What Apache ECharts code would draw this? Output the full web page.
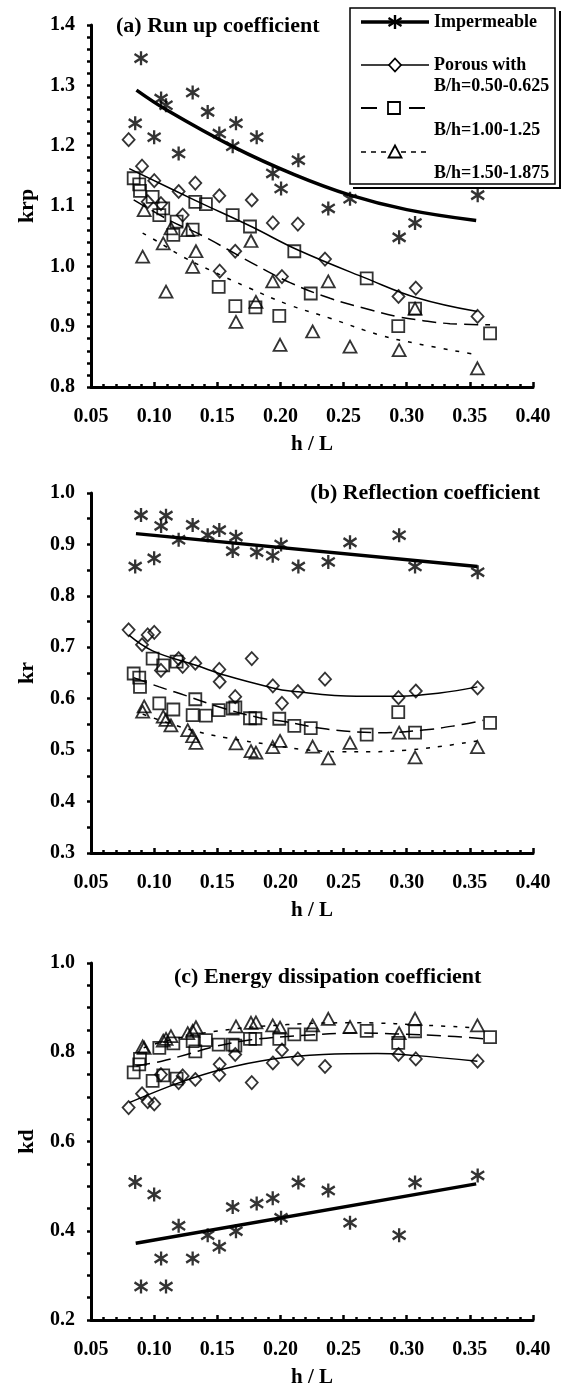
<!DOCTYPE html>
<html>
<head>
<meta charset="utf-8">
<script src="https://cdn.jsdelivr.net/npm/echarts@6/dist/echarts.min.js"></script>
<style>
html,body{margin:0;padding:0;background:#fff;}
#chart{width:563px;height:1389px;}
</style>
</head>
<body>
<div id="chart"></div>
<script>
// ---------- DATA ----------
// Shared h/L values of each test group
const hL_imp = [0.085,0.0896,0.100,0.1055,0.1094,0.1194,0.1305,0.1424,0.1516,0.1622,0.1648,0.1812,0.1939,0.2005,0.2142,0.2379,0.2551,0.294,0.3066,0.3562];
const hL_p05 = [0.0798,0.0904,0.0949,0.1001,0.1054,0.1194,0.1226,0.1326,0.1516,0.1519,0.1642,0.1773,0.194,0.2012,0.2138,0.2353,0.2935,0.3072,0.3561];
const hL_p10 = [0.0838,0.0882,0.0888,0.0988,0.1041,0.1072,0.1152,0.1178,0.1305,0.1326,0.141,0.1511,0.1622,0.1643,0.1759,0.1802,0.1991,0.211,0.224,0.2683,0.2933,0.3066,0.366];
const hL_p15 = [0.0909,0.0921,0.1072,0.1094,0.1133,0.1266,0.1305,0.1331,0.1648,0.1767,0.1806,0.1939,0.1997,0.2255,0.2379,0.2551,0.294,0.3066,0.356];

// (a) run-up coefficient krp
const krp_imp = [1.237,1.345,1.214,1.278,1.267,1.187,1.288,1.256,1.220,1.199,1.237,1.214,1.154,1.129,1.176,1.096,1.112,1.048,1.072,1.118];
const krp_p05 = [1.210,1.166,1.107,1.142,1.104,1.124,1.085,1.138,1.117,0.992,1.025,1.110,1.072,0.983,1.070,1.012,0.950,0.964,0.917];
const krp_p10 = [1.146,1.136,1.125,1.115,1.085,1.096,1.052,1.074,1.061,1.107,1.103,0.966,1.085,0.934,1.066,0.932,0.918,1.025,0.955,0.980,0.901,0.930,0.889];
const krp_p15 = [1.016,1.093,1.038,0.958,1.063,1.060,0.999,1.025,0.908,1.042,0.941,0.975,0.870,0.892,0.975,0.867,0.861,0.930,0.831];

// (b) reflection coefficient kr
const kr_imp = [0.857,0.957,0.873,0.936,0.956,0.909,0.938,0.918,0.928,0.887,0.915,0.885,0.878,0.900,0.857,0.866,0.904,0.918,0.857,0.846];
const kr_p05 = [0.734,0.705,0.724,0.729,0.655,0.678,0.663,0.669,0.657,0.633,0.604,0.678,0.625,0.591,0.614,0.638,0.602,0.615,0.621];
const kr_p10 = [0.649,0.641,0.623,0.678,0.591,0.665,0.579,0.672,0.568,0.599,0.567,0.578,0.581,0.583,0.562,0.562,0.561,0.547,0.543,0.530,0.574,0.534,0.553];
const kr_p15 = [0.575,0.585,0.565,0.559,0.548,0.539,0.527,0.514,0.513,0.498,0.495,0.506,0.518,0.507,0.484,0.514,0.534,0.486,0.506];

// (c) energy dissipation coefficient kd
const kd_imp = [0.509,0.275,0.481,0.338,0.275,0.411,0.338,0.390,0.364,0.453,0.399,0.461,0.473,0.429,0.508,0.490,0.418,0.390,0.508,0.524];
const kd_p05 = [0.676,0.707,0.689,0.684,0.750,0.732,0.747,0.739,0.750,0.773,0.795,0.732,0.776,0.805,0.785,0.768,0.795,0.785,0.780];
const kd_p10 = [0.755,0.773,0.785,0.736,0.810,0.748,0.820,0.741,0.825,0.802,0.827,0.817,0.817,0.815,0.830,0.830,0.830,0.840,0.840,0.848,0.821,0.847,0.834];
const kd_p15 = [0.813,0.810,0.826,0.830,0.836,0.843,0.848,0.856,0.858,0.866,0.867,0.860,0.855,0.860,0.875,0.857,0.843,0.875,0.860];

// Trend lines
const fitA_imp = [[0.086,1.292],[0.11,1.259],[0.1628,1.198],[0.211,1.152],[0.2552,1.118],[0.30,1.094],[0.355,1.076]];
const fitA_p05 = [[0.0803,1.162],[0.1329,1.109],[0.1769,1.066],[0.2139,1.027],[0.268,0.980],[0.3078,0.948],[0.356,0.925]];
const fitA_p10 = [[0.0838,1.110],[0.1133,1.075],[0.1371,1.052],[0.178,1.005],[0.2076,0.973],[0.2393,0.947],[0.2709,0.928],[0.292,0.917],[0.313,0.910],[0.3343,0.905],[0.366,0.903]];
const fitA_p15 = [[0.0909,1.055],[0.1028,1.041],[0.1226,1.016],[0.145,0.993],[0.1753,0.964],[0.207,0.936],[0.2393,0.914],[0.2788,0.886],[0.3078,0.872],[0.3514,0.855]];

const fitB_imp = [[0.0856,0.921],[0.356,0.857]];
const fitB_p05 = [[0.0798,0.724],[0.0988,0.693],[0.1331,0.665],[0.1569,0.645],[0.1939,0.621],[0.2076,0.615],[0.2603,0.605],[0.2947,0.605],[0.3263,0.611],[0.3559,0.623]];
const fitB_p10 = [[0.0838,0.641],[0.1041,0.623],[0.1252,0.606],[0.1516,0.584],[0.1833,0.563],[0.2044,0.555],[0.2366,0.541],[0.2788,0.534],[0.3131,0.539],[0.3395,0.548],[0.3606,0.558]];
const fitB_p15 = [[0.0909,0.570],[0.1252,0.542],[0.1569,0.524],[0.1939,0.510],[0.2155,0.502],[0.2472,0.497],[0.2709,0.497],[0.30,0.500],[0.329,0.508],[0.356,0.518]];

const fitC_imp = [[0.0854,0.372],[0.355,0.505]];
const fitC_p05 = [[0.0803,0.687],[0.12,0.732],[0.1541,0.762],[0.194,0.785],[0.2339,0.795],[0.2765,0.797],[0.3049,0.793],[0.356,0.780]];
const fitC_p10 = [[0.0859,0.769],[0.106,0.780],[0.1258,0.795],[0.1485,0.813],[0.1769,0.828],[0.2196,0.838],[0.2622,0.843],[0.2907,0.841],[0.3333,0.836],[0.3617,0.830]];
const fitC_p15 = [[0.0917,0.810],[0.1087,0.825],[0.1485,0.847],[0.2054,0.862],[0.2622,0.866],[0.3191,0.860],[0.3532,0.855]];

// Titles / labels
const panelTitles = ['(a) Run up coefficient','(b) Reflection coefficient','(c) Energy dissipation coefficient'];
const yNames = ['krp','kr','kd'];
const xName = 'h / L';
const legendLabels = ['Impermeable','Porous with','B/h=0.50-0.625','B/h=1.00-1.25','B/h=1.50-1.875'];

// ---------- CHART ----------
const FONT = 'Liberation Serif, Times New Roman, serif';
const BLK = '#000';
const zip = (xs, ys) => xs.map((x, i) => [x, ys[i]]);

const ASTERISK = 'path://M10,0L10,20M1,4L19,16M1,16L19,4';

const grids = [
  {left: 91, width: 442, top: 25, height: 362},
  {left: 91, width: 442, top: 493, height: 360},
  {left: 91, width: 442, top: 963, height: 359}
];

const yCfg = [
  {min: 0.8, max: 1.4, interval: 0.1, minor: 5},
  {min: 0.3, max: 1.0, interval: 0.1, minor: 2},
  {min: 0.2, max: 1.0, interval: 0.2, minor: 4}
];

const labelStyle = {fontFamily: FONT, fontWeight: 'bold', fontSize: 20, color: BLK};

const xAxes = grids.map((g, i) => ({
  type: 'value', gridIndex: i, min: 0.05, max: 0.40, interval: 0.05,
  axisLine: {show: true, lineStyle: {color: BLK, width: 3}},
  axisTick: {show: true, inside: true, length: 5, lineStyle: {color: BLK, width: 2.5}},
  minorTick: {show: true, splitNumber: 5, length: 3, lineStyle: {color: BLK, width: 2.5}},
  splitLine: {show: false}, minorSplitLine: {show: false},
  axisLabel: Object.assign({margin: 20, formatter: v => v.toFixed(2)}, labelStyle),
  name: xName, nameLocation: 'middle', nameGap: 47,
  nameTextStyle: {fontFamily: FONT, fontWeight: 'bold', fontSize: 21, color: BLK}
}));

const yAxes = yCfg.map((c, i) => ({
  type: 'value', gridIndex: i, min: c.min, max: c.max, interval: c.interval,
  axisLine: {show: true, lineStyle: {color: BLK, width: 3}},
  axisTick: {show: true, inside: false, length: 4, lineStyle: {color: BLK, width: 2.5}},
  minorTick: {show: true, splitNumber: c.minor, length: 4, lineStyle: {color: BLK, width: 2.5}},
  splitLine: {show: false}, minorSplitLine: {show: false},
  axisLabel: Object.assign({margin: 16, formatter: v => v.toFixed(1)}, labelStyle),
  name: yNames[i], nameLocation: 'middle', nameGap: 53, nameRotate: 90,
  nameTextStyle: {fontFamily: FONT, fontWeight: 'bold', fontSize: 22, color: BLK}
}));

const markerStyle = {
  imp: {symbol: ASTERISK, symbolSize: [13, 14], itemStyle: {color: 'none', borderColor: BLK, borderWidth: 2.4}},
  p05: {symbol: 'diamond', symbolSize: [12, 13], itemStyle: {color: 'rgba(255,255,255,0)', borderColor: BLK, borderWidth: 1.8}},
  p10: {symbol: 'rect', symbolSize: [12, 12], itemStyle: {color: 'rgba(255,255,255,0)', borderColor: BLK, borderWidth: 1.8}},
  p15: {symbol: 'triangle', symbolSize: [13, 12], itemStyle: {color: 'rgba(255,255,255,0)', borderColor: BLK, borderWidth: 1.8}}
};
const lineStyle = {
  imp: {color: BLK, width: 3.5, type: 'solid'},
  p05: {color: BLK, width: 1.5, type: 'solid'},
  p10: {color: BLK, width: 1.5, type: [14, 7]},
  p15: {color: BLK, width: 1.5, type: [4, 8]}
};

const panels = [
  {pts: {imp: zip(hL_imp, krp_imp), p05: zip(hL_p05, krp_p05), p10: zip(hL_p10, krp_p10), p15: zip(hL_p15, krp_p15)},
   fit: {imp: fitA_imp, p05: fitA_p05, p10: fitA_p10, p15: fitA_p15}},
  {pts: {imp: zip(hL_imp, kr_imp), p05: zip(hL_p05, kr_p05), p10: zip(hL_p10, kr_p10), p15: zip(hL_p15, kr_p15)},
   fit: {imp: fitB_imp, p05: fitB_p05, p10: fitB_p10, p15: fitB_p15}},
  {pts: {imp: zip(hL_imp, kd_imp), p05: zip(hL_p05, kd_p05), p10: zip(hL_p10, kd_p10), p15: zip(hL_p15, kd_p15)},
   fit: {imp: fitC_imp, p05: fitC_p05, p10: fitC_p10, p15: fitC_p15}}
];

const series = [];
panels.forEach((p, i) => {
  ['p15', 'p10', 'p05', 'imp'].forEach(k => {
    series.push({
      type: 'line', xAxisIndex: i, yAxisIndex: i, data: p.fit[k],
      showSymbol: false, symbol: 'none', smooth: 0.4, silent: true,
      lineStyle: lineStyle[k], z: 2
    });
  });
  ['p15', 'p10', 'p05', 'imp'].forEach(k => {
    series.push(Object.assign({
      type: 'scatter', xAxisIndex: i, yAxisIndex: i, data: p.pts[k], silent: true, z: 3
    }, markerStyle[k]));
  });
});

const titleStyle = {fontFamily: FONT, fontWeight: 'bold', fontSize: 22, color: BLK};
const titles = [
  {text: panelTitles[0], left: 116, top: 15, padding: 0, textStyle: titleStyle},
  {text: panelTitles[1], right: 23, top: 482, padding: 0, textStyle: titleStyle},
  {text: panelTitles[2], left: 174, top: 966, padding: 0, textStyle: titleStyle}
];

// Legend drawn as graphic (boxed, as in the figure)
const lgFont = {fontFamily: FONT, fontWeight: 'bold', fontSize: 18, fill: BLK};
const lgText = (t, x, y) => ({type: 'text', x: x, y: y, z: 12, style: Object.assign({text: t, verticalAlign: 'middle', align: 'left'}, lgFont)});
const lgLine = (x1, y1, x2, y2, w, dash) => ({type: 'line', z: 11, shape: {x1: x1, y1: y1, x2: x2, y2: y2},
  style: Object.assign({stroke: BLK, lineWidth: w}, dash ? {lineDash: dash} : {})});
const lx0 = 361, lx1 = 429, lcx = 395;
const graphic = [
  {type: 'polyline', shape: {points: [[353, 188], [560, 188], [560, 11]]}, style: {stroke: BLK, lineWidth: 2, fill: null}, z: 10},
  {type: 'rect', shape: {x: 350, y: 8, width: 205, height: 176}, style: {fill: '#fff', stroke: BLK, lineWidth: 1.5}, z: 10},
  // row 1: impermeable
  lgLine(lx0, 22, lx1, 22, 3.5),
  lgLine(lcx, 15, lcx, 29, 2.4),
  lgLine(lcx - 6.5, 18, lcx + 6.5, 26, 2.4),
  lgLine(lcx - 6.5, 26, lcx + 6.5, 18, 2.4),
  lgText(legendLabels[0], 434, 22),
  // row 2: B/h=0.50-0.625
  lgLine(lx0, 65, lx1, 65, 1.5),
  {type: 'polygon', z: 12, shape: {points: [[lcx, 58.5], [lcx + 6, 65], [lcx, 71.5], [lcx - 6, 65]]}, style: {fill: '#fff', stroke: BLK, lineWidth: 1.8}},
  lgText(legendLabels[1], 434, 65),
  lgText(legendLabels[2], 434, 86),
  // row 3: B/h=1.00-1.25
  lgLine(lx0, 108, 377, 108, 2),
  lgLine(409, 108, 425, 108, 2),
  {type: 'rect', z: 12, shape: {x: 388, y: 102, width: 12, height: 12}, style: {fill: '#fff', stroke: BLK, lineWidth: 1.8}},
  lgText(legendLabels[3], 434, 130),
  // row 4: B/h=1.50-1.875
  lgLine(lx0, 152, lx1, 152, 1.5, [5, 5]),
  {type: 'polygon', z: 12, shape: {points: [[lcx, 145.5], [lcx + 6.5, 157.5], [lcx - 6.5, 157.5]]}, style: {fill: '#fff', stroke: BLK, lineWidth: 1.8}},
  lgText(legendLabels[4], 434, 173)
];

const chart = echarts.init(document.getElementById('chart'), null, {renderer: 'canvas'});
chart.setOption({
  backgroundColor: '#fff',
  animation: false,
  title: titles,
  grid: grids,
  xAxis: xAxes,
  yAxis: yAxes,
  series: series,
  graphic: graphic
});
</script>
</body>
</html>
